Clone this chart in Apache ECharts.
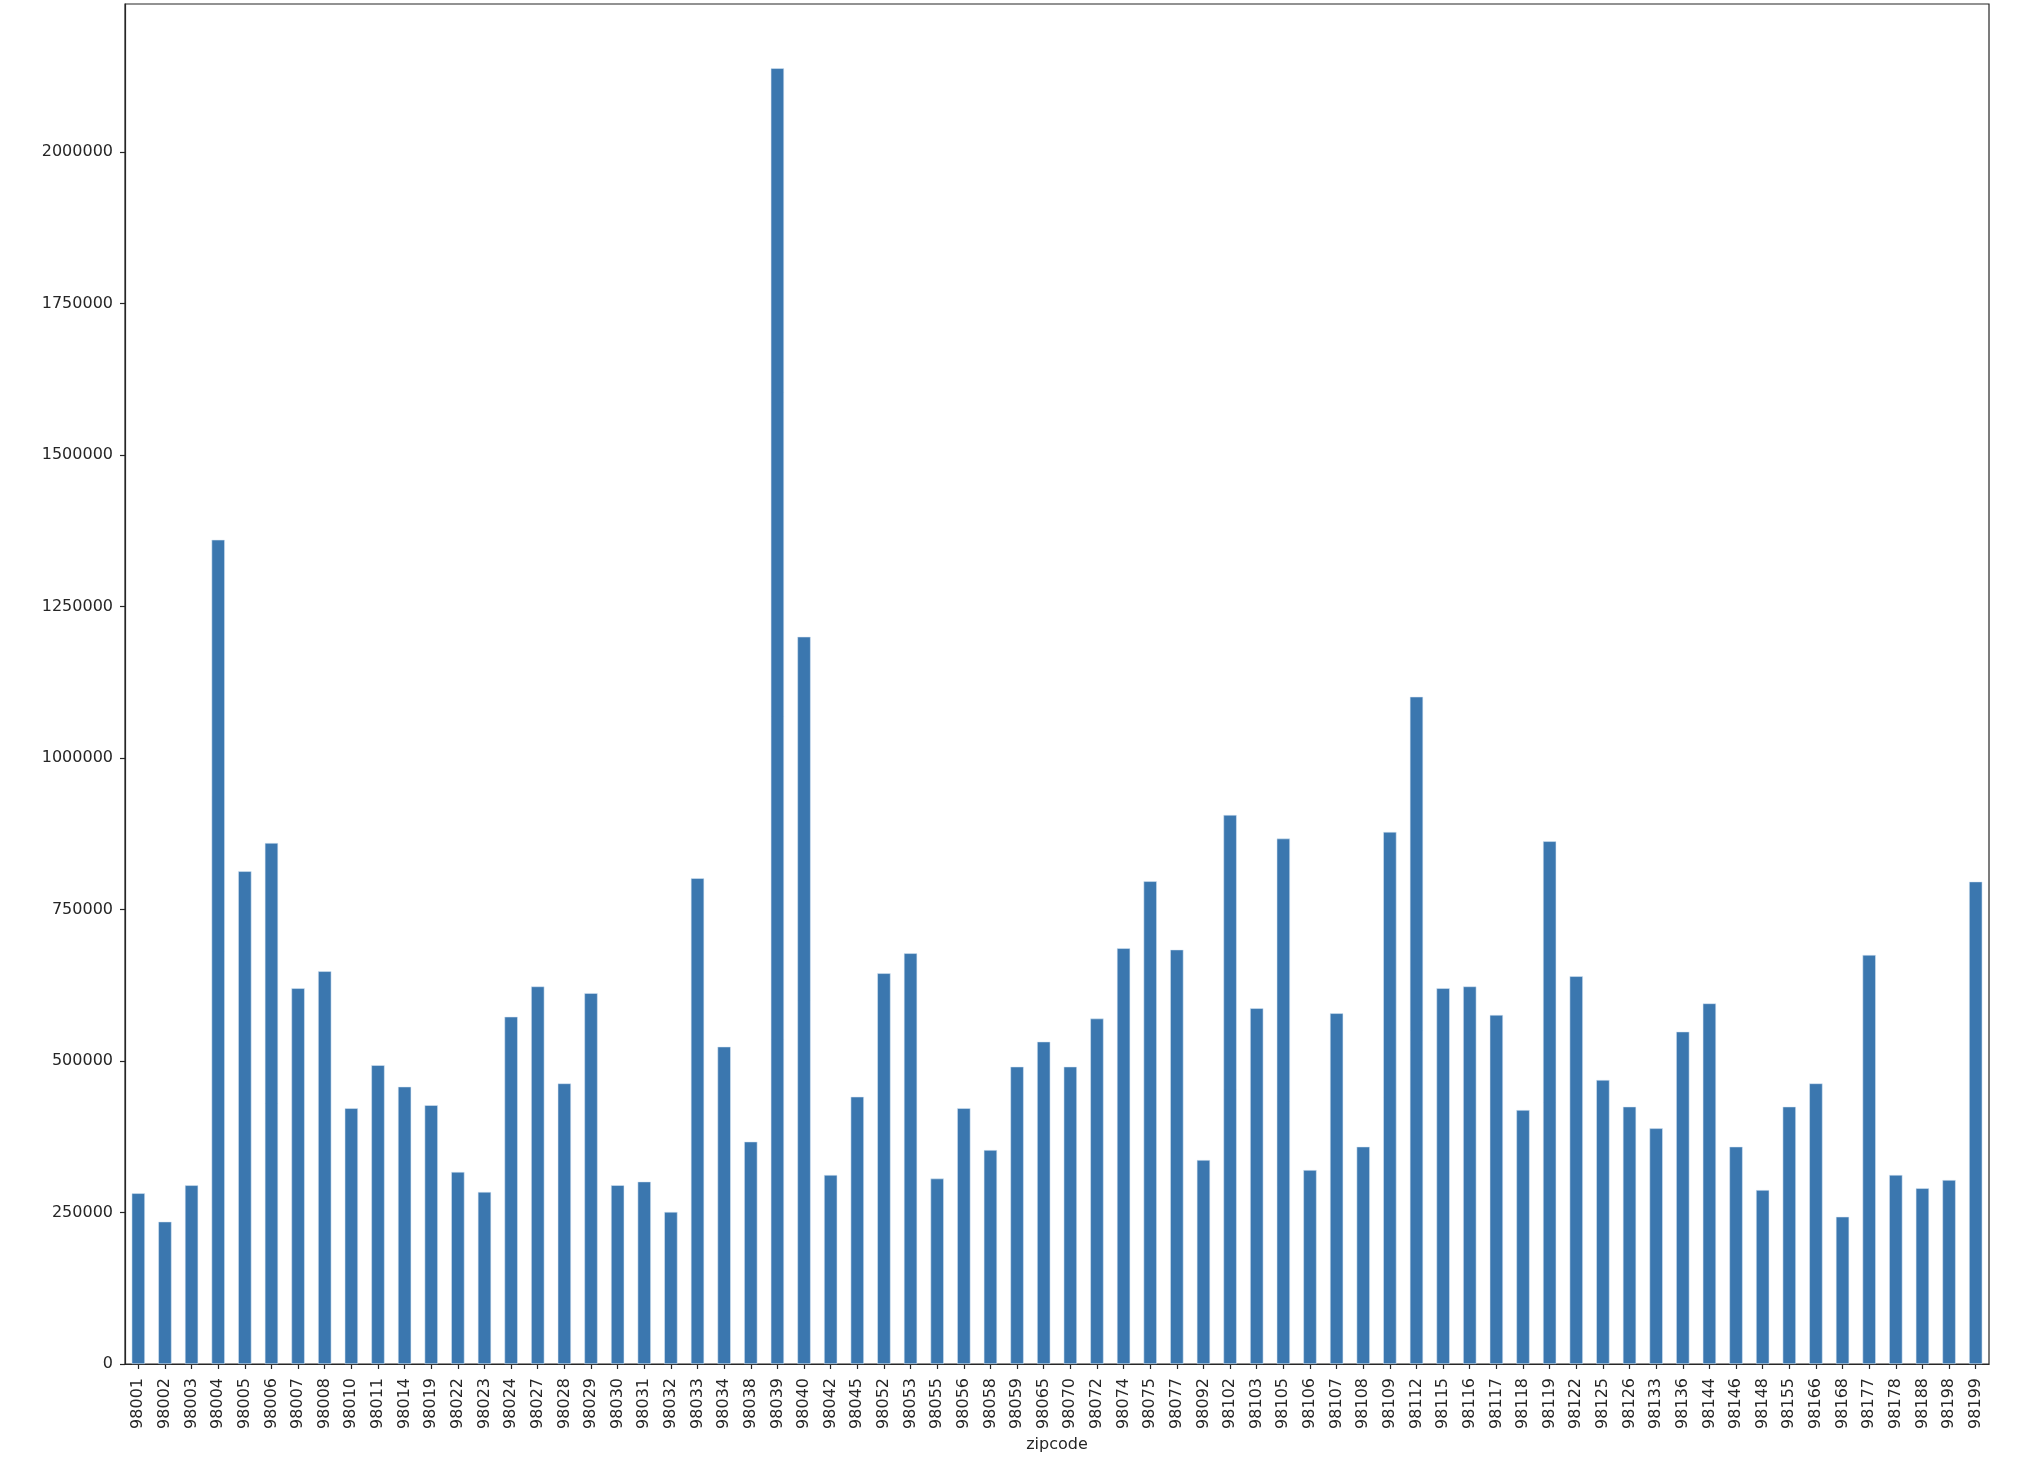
<!DOCTYPE html>
<html>
<head>
<meta charset="utf-8">
<script src="https://cdn.jsdelivr.net/npm/echarts@6/dist/echarts.min.js"></script>
<style>
html,body{margin:0;padding:0;background:#fff;}
#chart{width:2018px;height:1470px;}
</style>
</head>
<body>
<div id="chart"></div>
<script>
const zipcodes = ["98001","98002","98003","98004","98005","98006","98007","98008","98010","98011","98014","98019","98022","98023","98024","98027","98028","98029","98030","98031","98032","98033","98034","98038","98039","98040","98042","98045","98052","98053","98055","98056","98058","98059","98065","98070","98072","98074","98075","98077","98092","98102","98103","98105","98106","98107","98108","98109","98112","98115","98116","98117","98118","98119","98122","98125","98126","98133","98136","98144","98146","98148","98155","98166","98168","98177","98178","98188","98198","98199"];
const meanPrice = [281700,234900,294900,1360000,813000,859700,620000,648000,422000,493000,457600,427000,317000,284000,573000,623000,463000,612000,295000,301000,251000,801500,523600,366900,2138000,1200000,311900,441000,644700,677700,306000,422000,353000,490600,531900,490600,570000,686000,796500,683700,336600,906000,587000,867000,320000,578700,358600,878000,1101000,620000,623000,576000,419000,862500,639800,468700,424600,388900,548400,595000,358600,287000,424600,463000,243000,675000,312000,290000,303600,796000];
const yTicks = [0,250000,500000,750000,1000000,1250000,1500000,1750000,2000000];
const yMax = 2244000;
const xName = "zipcode";

const chart = echarts.init(document.getElementById('chart'), null, {renderer:'canvas'});
const font = 'DejaVu Sans';
const textColor = '#262626';
const lineColor = '#262626';
chart.setOption({
  animation: false,
  backgroundColor: '#ffffff',
  grid: {left:125, top:4, width:1864, height:1360, show:true, borderColor:lineColor, borderWidth:1.2, backgroundColor:'transparent', containLabel:false},
  xAxis: {
    type:'category',
    data: zipcodes,
    boundaryGap:true,
    name: xName,
    nameLocation:'middle',
    nameGap:72,
    nameTextStyle:{fontFamily:font, fontSize:16, color:textColor},
    axisLine:{show:true, lineStyle:{color:lineColor, width:1.2}},
    axisTick:{show:true, alignWithLabel:true, length:5, lineStyle:{color:lineColor, width:1.2}},
    axisLabel:{show:true, rotate:90, interval:0, margin:14, fontFamily:font, fontSize:16, color:textColor},
    splitLine:{show:false}
  },
  yAxis: {
    type:'value',
    min:0,
    max:yMax,
    interval:250000,
    axisLine:{show:true, lineStyle:{color:lineColor, width:1.2}},
    axisTick:{show:true, length:5, customValues:yTicks, lineStyle:{color:lineColor, width:1.2}},
    axisLabel:{show:true, margin:12, customValues:yTicks, fontFamily:font, fontSize:16, color:textColor,
      formatter: v => yTicks.includes(v) ? String(v) : ''},
    splitLine:{show:false}
  },
  series: [{
    type:'bar',
    data: meanPrice,
    barWidth:'50%',
    itemStyle:{color:'#3b77af', borderColor:'rgba(220,232,245,0.9)', borderWidth:0.6}
  }]
});
</script>
</body>
</html>
